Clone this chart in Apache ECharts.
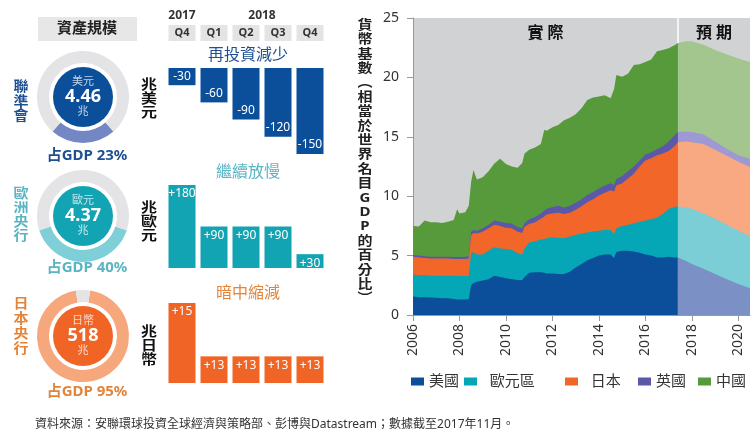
<!DOCTYPE html>
<html><head><meta charset="utf-8">
<script src="https://cdn.jsdelivr.net/npm/echarts@6/dist/echarts.min.js"></script>
<style>html,body{margin:0;padding:0;background:#fff}#c{width:754px;height:448px}</style>
</head><body><div id="c"></div>
<script>
const FONT = '"Noto Sans","Noto Sans CJK TC",sans-serif';

// ---- main chart: monetary base, % of world nominal GDP (per-country layers) ----
const countries = ['美國', '歐元區', '日本', '英國', '中國'];
const yearsActual = [2006.0, 2006.25, 2006.5, 2006.75, 2007.0, 2007.25, 2007.5, 2007.75, 2007.9, 2008.0, 2008.25, 2008.4, 2008.5, 2008.6, 2008.75, 2009.0, 2009.25, 2009.5, 2009.75, 2010.0, 2010.25, 2010.5, 2010.7, 2010.8, 2011.0, 2011.25, 2011.5, 2011.65, 2011.75, 2012.0, 2012.25, 2012.5, 2012.75, 2013.0, 2013.25, 2013.5, 2013.75, 2014.0, 2014.25, 2014.5, 2014.65, 2014.75, 2015.0, 2015.25, 2015.5, 2015.75, 2016.0, 2016.25, 2016.5, 2016.75, 2017.0, 2017.25, 2017.4];
const usActual = [1.55,1.5,1.5,1.48,1.45,1.4,1.4,1.35,1.3,1.3,1.3,1.35, 2.5,2.7,2.8, 2.9,3.0,3.3,3.2, 3.1,3.0,2.95,2.95,3.2, 3.55,3.6,3.6,3.55,3.5, 3.5,3.45,3.45,3.65, 4.0,4.3,4.6,4.8, 5.0,5.1,5.1,4.8,5.3, 5.4,5.4,5.35,5.25, 5.1,5.0,4.85,4.85, 4.9,4.85,4.85];
const euActual = [1.85,1.85,1.85,1.82,1.85,1.9,1.9,1.95,1.98,1.98,1.98,1.95, 2.7,2.6,2.3, 2.2,2.4,2.4,2.4, 2.45,2.5,2.25,2.15,2.4, 2.55,2.6,2.75,2.85,2.95, 3.05,3.05,3.0,2.95, 2.75,2.55,2.35,2.25, 2.1,2.05,2.05,2.0,2.0, 2.1,2.2,2.35,2.6, 2.85,3.05,3.35,3.65, 4.05,4.25,4.3];
const jpActual = [1.5,1.5,1.45,1.45,1.45,1.45,1.45,1.42,1.44,1.44,1.44,1.45, 1.5,1.6,1.75, 1.9,1.9,1.9,1.9, 1.8,1.8,1.8,1.8,1.8, 1.55,1.6,1.75,1.9,2.0, 2.0,2.1,2.05,2.0, 2.1,2.3,2.55,2.7, 2.95,3.15,3.35,3.6,3.6, 3.6,3.9,4.2,4.65, 5.05,5.15,5.25,5.1, 4.85,5.1,5.4];
const ukActual = [0.15,0.15,0.15,0.15,0.15,0.15,0.15,0.16,0.16,0.16,0.18,0.2, 0.3,0.25,0.25, 0.3,0.3,0.35,0.35, 0.4,0.4,0.4,0.4,0.35, 0.4,0.45,0.45,0.5,0.5, 0.55,0.6,0.55,0.6, 0.6,0.6,0.6,0.6, 0.6,0.6,0.6,0.55,0.55, 0.6,0.6,0.6,0.5, 0.5,0.5,0.5,0.6, 0.8,0.9,0.85];
const cnActual = [2.45,2.45,3.0,2.9,2.9,2.85,2.95,3.12,4.02,3.67,3.75,4.25, 4.2,5.05,4.3, 4.3,4.5,4.8,5.3, 4.95,4.8,5.0,5.5,5.85, 5.85,5.85,5.85,6.8,6.55, 6.7,6.8,7.35,7.4, 7.45,7.65,8.0,7.95, 7.75,7.6,7.15,8.05,8.75, 8.35,8.2,8.55,8.1, 7.8,7.8,8.25,8.1, 7.85,7.6,7.5];

const yearsForecast = [2017.4, 2017.75, 2018.0, 2018.5, 2019.0, 2019.5, 2020.0, 2020.5];
const usForecast = [4.85,4.55,4.3,3.9,3.45,3.0,2.6,2.25];
const euForecast = [4.3,4.5,4.65,4.65,4.65,4.6,4.5,4.4];
const jpForecast = [5.4,5.55,5.6,5.85,5.8,5.8,5.8,5.8];
const ukForecast = [0.85,0.85,0.85,0.8,0.7,0.6,0.55,0.7];
const cnForecast = [7.5,7.6,7.65,7.55,7.7,7.95,8.15,8.15];

const xTickYears = [2006, 2008, 2010, 2012, 2014, 2016, 2018, 2020];
const yTicks = [0, 5, 10, 15, 20, 25];
const periodLabels = ['實 際', '預 期'];

// ---- donuts: balance sheet size ----
const bankNames = ['聯準會', '歐洲央行', '日本央行'];
const assetUnits = ['美元', '歐元', '日幣'];
const assetValues = ['4.46', '4.37', '518'];
const gdpShare = [23, 40, 95];

// ---- bars: quarterly change ----
const quarters = ['2017Q4', '2018Q1', '2018Q2', '2018Q3', '2018Q4'];
const fedChange = [-30, -60, -90, -120, -150];
const ecbChange = [180, 90, 90, 90, 30];
const bojChange = [15, 13, 13, 13, 13];
const barTitles = ['再投資減少', '繼續放慢', '暗中縮減'];
const barUnits = ['兆美元', '兆歐元', '兆日幣'];

const actualColors = ['#0b4f9b', '#05a6b6', '#f2662a', '#5b59a7', '#579a3b'];
const forecastColors = ['#7b90c5', '#7bcdd6', '#f8a981', '#9e99d2', '#a3c68f'];
const bankColors = ['#0b4f9b', '#13a4b4', '#f06525'];
const ringColors = ['#7287c4', '#7fcfd8', '#f7a77c'];
const textColors = ['#1d4f91', '#5ab4c2', '#e2843a'];

const actualSets = [usActual, euActual, jpActual, ukActual, cnActual];
const forecastSets = [usForecast, euForecast, jpForecast, ukForecast, cnForecast];

// cumulative layer tops (stack order: US at bottom ... China on top)
const cumulate = (sets) => sets.map((_, k) => sets[0].map((__, i) => {
  let s = 0; for (let j = 0; j <= k; j++) s += sets[j][i]; return Math.round(s * 1000) / 1000;
}));
const actualTops = cumulate(actualSets);
const forecastTops = cumulate(forecastSets);

const series = [];
for (let k = countries.length - 1; k >= 0; k--) {
  const s = {
    type: 'line', name: countries[k], xAxisIndex: 0, yAxisIndex: 0,
    data: yearsActual.map((t, i) => [t, actualTops[k][i]]),
    showSymbol: false, symbol: 'none', silent: true,
    lineStyle: { width: 0 }, itemStyle: { color: actualColors[k] },
    areaStyle: { color: actualColors[k], opacity: 1, origin: 'start' }
  };
  if (k === 0) {
    s.markArea = {
      silent: true,
      itemStyle: { color: 'rgba(0,0,0,0)' },
      label: { show: true, position: 'insideTop', distance: 7, fontSize: 16, fontWeight: 'bold', color: '#111', fontFamily: FONT },
      data: [
        [{ name: periodLabels[0], xAxis: yearsActual[0] }, { xAxis: yearsActual[yearsActual.length - 1] }],
        [{ name: periodLabels[1], xAxis: yearsForecast[0] }, { xAxis: yearsForecast[yearsForecast.length - 1] }]
      ]
    };
  }
  series.push(s);
}
for (let k = countries.length - 1; k >= 0; k--) {
  const s = {
    type: 'line', name: countries[k] + '預期', xAxisIndex: 0, yAxisIndex: 0,
    data: yearsForecast.map((t, i) => [t, forecastTops[k][i]]),
    showSymbol: false, symbol: 'none', silent: true,
    lineStyle: { width: 0 }, itemStyle: { color: forecastColors[k] },
    areaStyle: { color: forecastColors[k], opacity: 1, origin: 'start' }
  };
  if (k === 4) {
    s.markLine = {
      silent: true, symbol: 'none', label: { show: false },
      lineStyle: { color: '#ffffff', width: 1.5, type: 'solid' },
      data: [[{ coord: [yearsForecast[0], forecastTops[4][0]] }, { coord: [yearsForecast[0], 25] }]]
    };
  }
  series.push(s);
}

// donuts
const donutCenters = [[83, 97], [83, 216], [83, 336]];
bankNames.forEach((b, k) => {
  const p = gdpShare[k];
  series.push({
    type: 'pie', center: donutCenters[k], radius: [34, 46], silent: true,
    startAngle: -90 + p * 1.8, clockwise: true,
    label: { show: false }, labelLine: { show: false },
    emphasis: { disabled: true },
    data: [{ value: p, itemStyle: { color: ringColors[k] } }, { value: 100 - p, itemStyle: { color: '#e4e4e6' } }]
  });
  series.push({
    type: 'pie', center: donutCenters[k], radius: [0, 30], silent: true,
    emphasis: { disabled: true }, labelLine: { show: false },
    data: [{ value: 1, name: assetValues[k], itemStyle: { color: bankColors[k] } }],
    label: {
      show: true, position: 'center',
      formatter: '{a|' + assetUnits[k] + '}\n{b|' + assetValues[k] + '}\n{a|兆}',
      rich: {
        a: { fontSize: 11, color: 'rgba(255,255,255,0.75)', lineHeight: 13, fontFamily: FONT },
        b: { fontSize: 18, fontWeight: 'bold', color: '#fff', lineHeight: 17, fontFamily: FONT }
      }
    }
  });
});

// bars
const barSets = [fedChange, ecbChange, bojChange];
barSets.forEach((vals, k) => {
  series.push({
    type: 'bar', xAxisIndex: k + 1, yAxisIndex: k + 1, data: vals, barWidth: 27, silent: true,
    itemStyle: { color: bankColors[k] }, clip: true,
    label: {
      show: true, position: k === 0 ? 'insideBottom' : 'insideTop', distance: 3,
      color: '#fff', fontSize: 12, fontFamily: FONT,
      formatter: (p) => (p.value > 0 ? '+' + p.value : '' + p.value)
    }
  });
});

const grids = [
  { left: 413, right: 4, top: 18, bottom: 133, show: true, backgroundColor: '#d1d2d4', borderWidth: 0 },
  { left: 166, width: 160, top: 68, height: 86 },
  { left: 166, width: 160, top: 185, height: 83 },
  { left: 166, width: 160, top: 303, height: 80 }
];

const xAxes = [
  {
    gridIndex: 0, type: 'value', min: 2006, max: 2020.5,
    axisLine: { show: true, lineStyle: { color: '#999' } },
    axisTick: { show: true, length: 6, lineStyle: { color: '#999' }, customValues: xTickYears },
    axisLabel: { rotate: 90, fontSize: 14, color: '#333', margin: 9, fontFamily: FONT, customValues: xTickYears, formatter: (v) => '' + v },
    splitLine: { show: false }
  },
  {
    gridIndex: 1, type: 'category', data: quarters, position: 'top',
    axisLine: { show: false }, axisTick: { show: false },
    axisLabel: {
      show: true, margin: 27, formatter: (q) => q.slice(4),
      backgroundColor: '#e4e4e4', width: 27, align: 'center', lineHeight: 12, padding: [2, 0, 2, 0],
      fontSize: 11, fontWeight: 'bold', color: '#333', fontFamily: FONT
    }
  },
  { gridIndex: 2, type: 'category', data: quarters, show: false },
  { gridIndex: 3, type: 'category', data: quarters, show: false }
];
const yAxes = [
  {
    gridIndex: 0, type: 'value', min: 0, max: 25, interval: 5,
    axisLine: { show: true, lineStyle: { color: '#999' } },
    axisTick: { show: true, length: 6, lineStyle: { color: '#999' } },
    axisLabel: { fontSize: 14, color: '#333', margin: 14, fontFamily: FONT, customValues: yTicks },
    splitLine: { show: false }
  },
  { gridIndex: 1, type: 'value', min: -150, max: 0, show: false, splitLine: { show: false } },
  { gridIndex: 2, type: 'value', min: 0, max: 180, show: false, splitLine: { show: false } },
  { gridIndex: 3, type: 'value', min: 12, max: 15, show: false, splitLine: { show: false } }
];

// legends (one per item for reference spacing)
const legendLefts = [406, 459, 560, 633, 693];
const legendPads = ['', '  ', '  ', '', ''];
const legends = countries.map((c, k) => ({
  data: [c], left: legendLefts[k], top: 369, icon: 'rect', itemWidth: 13, itemHeight: 8,
  selectedMode: false,
  formatter: (n) => legendPads[k] + n,
  textStyle: { fontSize: 15, color: '#333', fontFamily: FONT }
}));

const graphic = [
  { type: 'rect', shape: { x: 38, y: 17, width: 99, height: 24 }, style: { fill: '#e7e7e8' } },
  { type: 'text', style: { text: '資產規模', x: 87, y: 29, textAlign: 'center', textVerticalAlign: 'middle', font: 'bold 15px ' + FONT, fill: '#222' } },
  { type: 'text', style: { text: '2017', x: 182, y: 16, textAlign: 'center', textVerticalAlign: 'middle', font: 'bold 12px ' + FONT, fill: '#333' } },
  { type: 'text', style: { text: '2018', x: 262, y: 16, textAlign: 'center', textVerticalAlign: 'middle', font: 'bold 12px ' + FONT, fill: '#333' } },
  { type: 'text', style: { text: '資料來源：安聯環球投資全球經濟與策略部、彭博與Datastream；數據截至2017年11月。', x: 35, y: 425, textVerticalAlign: 'middle', font: '12px ' + FONT, fill: '#333' } }
];
// vertical text: one glyph per element, slightly squashed vertically like the reference
const vertical = (str, x, yTop, step, font, color, sy) => {
  str.split('').forEach((ch, i) => {
    graphic.push({
      type: 'text', x: x, y: yTop + step * (i + 0.5), scaleY: sy,
      style: { text: ch, x: 0, y: 0, textAlign: 'center', textVerticalAlign: 'middle', font: font, fill: color }
    });
  });
};
vertical('貨幣基數︵相當於世界名目GDP的百分比︶', 365, 18, 14.4, 'bold 15px ' + FONT, '#222', 0.85);
const nameTop = [80, 187, 297];
const nameStep = [14.5, 14.2, 15];
const gdpY = [156, 268, 392];
const titleY = [55, 172, 293];
const unitTop = [78, 201, 325];
bankNames.forEach((b, k) => {
  vertical(b, 21, nameTop[k], nameStep[k], 'bold 15px ' + FONT, textColors[k], 0.88);
  vertical(barUnits[k], 149, unitTop[k], 14.2, 'bold 16px ' + FONT, '#111', 0.82);
  graphic.push({ type: 'text', style: { text: '占GDP ' + gdpShare[k] + '%', x: 87, y: gdpY[k], textAlign: 'center', textVerticalAlign: 'middle', font: 'bold 15px ' + FONT, fill: textColors[k] } });
  graphic.push({ type: 'text', style: { text: barTitles[k], x: 248, y: titleY[k], textAlign: 'center', textVerticalAlign: 'middle', font: '16px ' + FONT, fill: textColors[k] } });
});

const chart = echarts.init(document.getElementById('c'), null, { renderer: 'canvas' });
chart.setOption({
  animation: false,
  backgroundColor: '#fff',
  textStyle: { fontFamily: FONT },
  grid: grids, xAxis: xAxes, yAxis: yAxes,
  legend: legends,
  graphic: graphic,
  series: series
});
</script></body></html>
